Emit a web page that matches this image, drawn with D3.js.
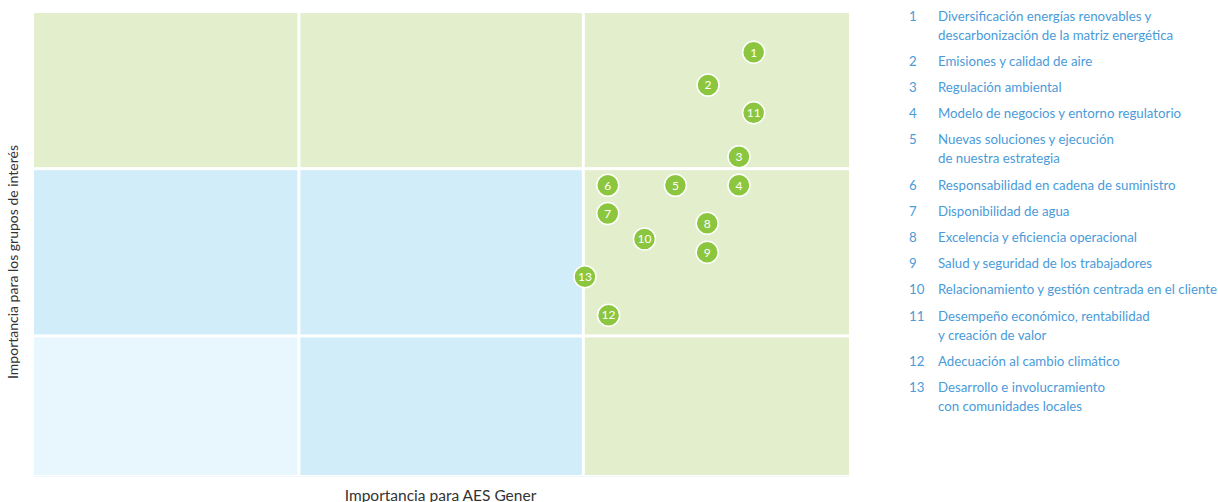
<!DOCTYPE html>
<html>
<head>
<meta charset="utf-8">
<script src="https://cdn.jsdelivr.net/npm/d3@7"></script>
<style>
  html, body { margin: 0; padding: 0; background: #fff; }
  body { font-family: Lato, "Open Sans", sans-serif; }
  svg { display: block; }
</style>
</head>
<body>
<div id="chart"></div>
<script>
// Materiality matrix - AES Gener

// zone boundaries on a 0-100 importance scale
const xBreaks = [0, 32.5, 67.4, 100];
const yBreaks = [0, 30.1, 66.3, 100];

// zone level per cell, rows listed bottom to top, columns left to right
const zoneLevels = [
    ['low', 'mid', 'high'],
    ['mid', 'mid', 'high'],
    ['high', 'high', 'high']
];

const topicIds = [1, 2, 3, 4, 5, 6, 7, 8, 9, 10, 11, 12, 13];
const importanceCompany = [88.3, 82.7, 86.5, 86.5, 78.7, 70.4, 70.4, 82.6, 82.6, 74.9, 88.3, 70.5, 67.6];
const importanceStakeholders = [91.5, 84.4, 68.9, 62.7, 62.7, 62.7, 56.6, 54.5, 48.2, 51.1, 78.4, 34.6, 42.9];

const topicNames = [
    ['Diversificación energías renovables y', 'descarbonización de la matriz energética'],
    ['Emisiones y calidad de aire'],
    ['Regulación ambiental'],
    ['Modelo de negocios y entorno regulatorio'],
    ['Nuevas soluciones y ejecución', 'de nuestra estrategia'],
    ['Responsabilidad en cadena de suministro'],
    ['Disponibilidad de agua'],
    ['Excelencia y eficiencia operacional'],
    ['Salud y seguridad de los trabajadores'],
    ['Relacionamiento y gestión centrada en el cliente'],
    ['Desempeño económico, rentabilidad', 'y creación de valor'],
    ['Adecuación al cambio climático'],
    ['Desarrollo e involucramiento', 'con comunidades locales']
];

const xTitle = 'Importancia para AES Gener';
const yTitle = 'Importancia para los grupos de interés';

const ZONE_COLORS = { low: '#e8f6fd', mid: '#d1edf9', high: '#e3eecd' };

const W = 1218, H = 502;
const plot = { left: 34, right: 849, top: 13, bottom: 475 };

const svg = d3.select('#chart').append('svg')
    .attr('width', W)
    .attr('height', H);

const x = d3.scaleLinear().domain([0, 100]).range([plot.left, plot.right]);
const y = d3.scaleLinear().domain([0, 100]).range([plot.bottom, plot.top]);

// zones
const gap = 1.5;
const cells = [];
zoneLevels.forEach((row, r) => {
    row.forEach((level, c) => {
        cells.push({ r, c, level });
    });
});

svg.append('g').selectAll('rect')
    .data(cells)
    .enter()
    .append('rect')
    .attr('x', d => x(xBreaks[d.c]) + (d.c > 0 ? gap : 0))
    .attr('y', d => y(yBreaks[d.r + 1]) + (d.r < 2 ? gap : 0))
    .attr('width', d => x(xBreaks[d.c + 1]) - x(xBreaks[d.c]) - (d.c > 0 ? gap : 0) - (d.c < 2 ? gap : 0))
    .attr('height', d => y(yBreaks[d.r]) - y(yBreaks[d.r + 1]) - (d.r > 0 ? gap : 0) - (d.r < 2 ? gap : 0))
    .attr('fill', d => ZONE_COLORS[d.level]);

// faint baseline under the matrix
svg.append('line')
    .attr('x1', x(0)).attr('x2', x(100))
    .attr('y1', y(0) + 1.5).attr('y2', y(0) + 1.5)
    .attr('stroke', '#f0f8fc')
    .attr('stroke-width', 1);

// topics
const points = topicIds.map((id, i) => ({
    id,
    cx: importanceCompany[i],
    cy: importanceStakeholders[i]
}));

const pts = svg.append('g').selectAll('g')
    .data(points)
    .enter()
    .append('g')
    .attr('transform', d => `translate(${x(d.cx)},${y(d.cy)})`);

pts.append('circle')
    .attr('r', 11)
    .attr('fill', '#8cc63f')
    .attr('stroke', '#fff')
    .attr('stroke-width', 1.5);

pts.append('text')
    .attr('text-anchor', 'middle')
    .attr('dy', '0.36em')
    .attr('font-size', '12px')
    .attr('fill', '#fff')
    .text(d => d.id);

// axis titles
svg.append('text')
    .attr('x', (plot.left + plot.right) / 2 - 1)
    .attr('y', 501)
    .attr('text-anchor', 'middle')
    .attr('font-size', '15.5px')
    .attr('fill', '#333')
    .text(xTitle);

svg.append('text')
    .attr('transform', 'translate(18,262) rotate(-90)')
    .attr('text-anchor', 'middle')
    .attr('font-size', '14px')
    .attr('fill', '#333')
    .text(yTitle);

// legend
const legend = svg.append('g');
let ly = 16;
topicIds.forEach((id, i) => {
    const g = legend.append('g').attr('transform', `translate(0,${ly})`);
    g.append('text')
        .attr('x', 909)
        .attr('dy', '0.35em')
        .attr('font-size', '13.25px')
        .attr('fill', '#4a9bd9')
        .text(id);
    topicNames[i].forEach((line, j) => {
        g.append('text')
            .attr('x', 938)
            .attr('y', j * 19)
            .attr('dy', '0.35em')
            .attr('font-size', '13.25px')
            .attr('fill', '#4a9bd9')
            .text(line);
    });
    ly += (topicNames[i].length - 1) * 19 + 26.2;
});
</script>
</body>
</html>
